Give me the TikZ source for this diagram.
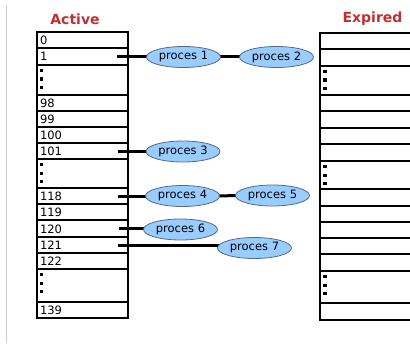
\documentclass[tikz,border=0pt]{standalone}
\usepackage{fontspec}
\setmainfont{DejaVu Sans}
\usetikzlibrary{shapes.geometric,backgrounds}
\definecolor{titlered}{RGB}{192,48,48}
\definecolor{procfill}{RGB}{153,204,255}
\definecolor{procedge}{RGB}{85,105,135}
\definecolor{frame}{RGB}{205,205,205}
\tikzset{
  cell/.style={draw=black, line width=1.8pt, rectangle, inner xsep=3pt, inner ysep=0pt,
    text width=85pt, align=left, text height=9pt, text depth=0pt,
    font=\fontsize{11.5}{13}\selectfont},
  title/.style={font=\fontsize{14}{16}\selectfont\bfseries, text=titlered},
  proc/.style={ellipse, draw=procedge, line width=0.8pt, fill=procfill,
    minimum width=74pt, minimum height=21pt, inner sep=0pt,
    font=\fontsize{11.5}{13}\selectfont},
  conn/.style={draw=black, line width=3pt},
  dotmark/.style={fill=black},
}
% \cellat{name}{left}{top}{bottom}{text}
\newcommand{\cellat}[5]{%
  \node[cell, minimum height={(#4)-(#3)}] (#1) at ({#2+45.5},{((#3)+(#4))/2}) {#5};}
\newcommand{\dotsat}[2]{%
  \fill[dotmark] ({#1-1.6},{#2+4}) rectangle +(3.2,3.2);
  \fill[dotmark] ({#1-1.6},{#2+12.5}) rectangle +(3.2,3.2);
  \fill[dotmark] ({#1-1.6},{#2+21}) rectangle +(3.2,3.2);}
\begin{document}
\begin{tikzpicture}[x=1pt,y=-1pt]
\clip (0,0) rectangle (410,345);
\draw[frame, line width=1pt] (6,5) -- (6,343);

\node[title] (tact) at (75,19.5) {Active};
\node[title] (texp) at (372.5,19) {Expired};

% Active table
\cellat{a0}{37}{32}{48}{0}
\cellat{a1}{37}{48}{65}{1}
\cellat{ad1}{37}{65}{95}{}
\cellat{a98}{37}{95}{111}{98}
\cellat{a99}{37}{111}{127}{99}
\cellat{a100}{37}{127}{143}{100}
\cellat{a101}{37}{143}{159}{101}
\cellat{ad2}{37}{159}{188}{}
\cellat{a118}{37}{188}{204}{118}
\cellat{a119}{37}{204}{220}{119}
\cellat{a120}{37}{220}{237}{120}
\cellat{a121}{37}{237}{253}{121}
\cellat{a122}{37}{253}{269}{122}
\cellat{ad3}{37}{269}{302}{}
\cellat{a139}{37}{302}{318}{139}
\dotsat{41.7}{65}
\dotsat{41.7}{159}
\dotsat{41.7}{269}

% Expired table
\cellat{e0}{320}{33}{49}{}
\cellat{e1}{320}{49}{66}{}
\cellat{ed1}{320}{66}{95}{}
\cellat{e98}{320}{95}{111}{}
\cellat{e99}{320}{111}{128}{}
\cellat{e100}{320}{128}{144}{}
\cellat{e101}{320}{144}{161}{}
\cellat{ed2}{320}{161}{189}{}
\cellat{e118}{320}{189}{206}{}
\cellat{e119}{320}{206}{222}{}
\cellat{e120}{320}{222}{238}{}
\cellat{e121}{320}{238}{254}{}
\cellat{e122}{320}{254}{271}{}
\cellat{ed3}{320}{271}{303}{}
\cellat{e139}{320}{303}{320}{}
\dotsat{325}{66}
\dotsat{325}{161}
\dotsat{325}{271}

% processes
\node[proc] (p1) at (183.5,57) {proces 1};
\node[proc] (p2) at (276.5,57) {proces 2};
\node[proc] (p3) at (183,151.5) {proces 3};
\node[proc] (p4) at (182.5,196) {proces 4};
\node[proc] (p5) at (272.5,195.5) {proces 5};
\node[proc] (p6) at (180.5,229.5) {proces 6};
\node[proc] (p7) at (254.5,248) {proces 7};

\coordinate (s1) at (117,57);
\coordinate (s101) at (118,151);
\coordinate (s118) at (117.5,196);
\coordinate (s120) at (119,228.5);
\coordinate (s121) at (118,245);

\begin{scope}[on background layer]
  \draw[conn] (s1) -- (s1 -| p1.center);
  \draw[conn] (p1.center) -- (p2.center);
  \draw[conn] (s101) -- (s101 -| p3.center);
  \draw[conn] (s118) -- (s118 -| p4.center);
  \draw[conn] (p4.center) -- (p5.center);
  \draw[conn] (s120) -- (s120 -| p6.center);
  \draw[conn] (s121) -- (s121 -| p7.center);
\end{scope}
\end{tikzpicture}
\end{document}
